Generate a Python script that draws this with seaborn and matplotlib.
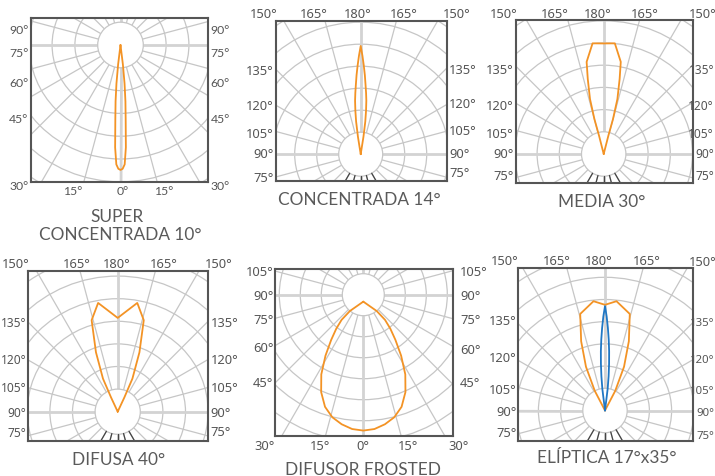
import numpy as np
import pandas as pd
import matplotlib.pyplot as plt
from matplotlib.patches import Circle
import seaborn as sns

W, H = 715, 477
sns.set_style("white")
plt.rcParams['font.family'] = ['Lato', 'DejaVu Sans']

ORANGE = "#f39325"
BLUE = "#1f77c4"
GRID = "#c6c6c6"
TXT = "#555555"
NARROW = ['Noto Sans', 'DejaVu Sans']

# half profiles: angle from the beam axis (deg) -> intensity in grid rings
super_angle = [0, 1, 2, 3, 4, 5, 6, 7, 8]
super_value = [5.48, 5.43, 5.24, 4.50, 3.25, 2.48, 1.70, 0.85, 0.0]
conc_angle = [0, 1, 2, 3, 4, 5, 6, 7, 8, 9, 10]
conc_value = [4.92, 4.48, 4.03, 3.60, 3.16, 2.80, 2.45, 1.99, 1.50, 0.80, 0.0]
media_angle = [0, 5.75, 10.5, 12.0, 14.0, 14.9, 14.3, 14.0]
media_value = [4.98, 5.01, 4.22, 3.45, 2.55, 1.63, 0.85, 0.0]
difusa_angle = [0, 10.2, 15.9, 20.1, 24.0, 25.0, 25.0]
difusa_value = [4.15, 4.89, 4.21, 2.80, 1.60, 0.70, 0.0]
frosted_angle = [0, 5, 10, 15, 20, 25, 30, 35, 40, 45, 50, 55, 60]
frosted_value = [6.14, 6.09, 5.93, 5.70, 5.33, 4.75, 4.00, 3.14, 2.38, 1.82, 1.35, 0.78, 0.0]
eli_wide_angle = [0, 6, 14.4, 19.0, 23.5, 27.5, 28.0]
eli_wide_value = [4.76, 4.95, 4.49, 3.30, 2.15, 1.00, 0.0]
eli_narrow_angle = [0, 1, 2, 3, 4, 5, 6, 7, 8]
eli_narrow_value = [4.70, 4.24, 3.72, 3.20, 2.67, 2.11, 1.55, 0.98, 0.0]

top_ticks = ["150°", "165°", "180°", "165°", "150°"]
side_up = ["135°", "120°", "105°", "90°", "75°"]
side_super = ["90°", "75°", "60°", "45°"]
side_frosted = ["105°", "90°", "75°", "60°", "45°"]
bottom_ticks = ["30°", "15°", "0°", "15°", "30°"]


def ticks(labels, xs, ys, ha="center", size=None):
    n = len(labels)
    xs = xs if isinstance(xs, list) else [xs] * n
    ys = ys if isinstance(ys, list) else [ys] * n
    return [(t, x, y, ha, size) for t, x, y in zip(labels, xs, ys)]


panels = [
    dict(box=(30.7, 19.3, 208.3, 182.7), c=(120.5, 46.0), ring=22.8, up=False,
         curves=[(super_angle, super_value, ORANGE)],
         title=[("SUPER", 116.7, 216.7), ("CONCENTRADA 10°", 120, 235)],
         font=(['Lato', 'DejaVu Sans'], 8.8, "normal"),
         labels=ticks(side_super, 28.3, [30, 53.3, 83.3, 120], "right")
         + ticks(side_super, 210.7, [30, 53.3, 83.3, 120], "left")
         + ticks(["30°"], 28.3, 186, "right") + ticks(["30°"], 210.7, 186, "left")
         + ticks(bottom_ticks[1:4], [72.7, 122.7, 163.3], 191.7)),
    dict(box=(275.5, 21.5, 446.8, 181.5), c=(360.7, 155.2), ring=22.0, up=True,
         curves=[(conc_angle, conc_value, ORANGE)],
         title=[("CONCENTRADA 14°", 359.7, 200)],
         labels=ticks(top_ticks, [263.3, 313.3, 357.3, 403.3, 456.7], 15)
         + ticks(side_up, 273.3, [71.7, 106.7, 135, 155, 178.3], "right")
         + ticks(side_up, 449.3, [70, 105, 131.7, 154, 173.3], "left")),
    dict(box=(515.7, 21.0, 692.9, 184.0), c=(603.7, 155.0), ring=22.2, up=True,
         curves=[(media_angle, media_value, ORANGE)],
         title=[("MEDIA 30°", 601.7, 201.7)],
         labels=ticks(top_ticks, [503.3, 555, 597.3, 645, 702.5], 14)
         + ticks(side_up, 514, [70.7, 106, 134.3, 155, 176.7], "right")
         + ticks(side_up, 714, [70.7, 106, 134.3, 155, 176], "right", 8.6)),
    dict(box=(27.7, 272.3, 208.2, 441.7), c=(117.7, 412.7), ring=22.6, up=True,
         curves=[(difusa_angle, difusa_value, ORANGE)],
         title=[("DIFUSA 40°", 118.3, 460)],
         labels=ticks(top_ticks, [15.5, 76.7, 116.7, 163.3, 218.3], 264)
         + ticks(side_up, 26.5, [323.3, 360, 388.3, 413.3, 433.3], "right", 8.6)
         + ticks(side_up, 210.7, [323.3, 360, 388.3, 413.3, 432.7], "left")),
    dict(box=(274.5, 270.3, 452.7, 437.0), c=(363.3, 295.7), ring=21.0, up=False,
         offset=-0.33,
         curves=[(frosted_angle, frosted_value, ORANGE)],
         title=[("DIFUSOR FROSTED", 363.3, 470)],
         labels=ticks(side_frosted, 273.3, [272.7, 296.7, 320, 348.3, 383.3], "right")
         + ticks(side_frosted, 460, [272.7, 296.7, 320.7, 350, 383.3], "left")
         + ticks(bottom_ticks, [265, 320, 363.3, 408.3, 458.3], 446.7)),
    dict(box=(518.2, 269.0, 693.3, 441.8), c=(605.0, 411.5), ring=22.2, up=True,
         curves=[(eli_wide_angle, eli_wide_value, ORANGE),
                 (eli_narrow_angle, eli_narrow_value, BLUE)],
         title=[("ELÍPTICA 17°x35°", 606.7, 458.3)],
         labels=ticks(top_ticks, [505, 556.7, 598.3, 646.7, 702.5],
                      [261.7, 261.7, 261.7, 261.7, 263])
         + ticks(side_up, 516.7, [321.7, 358.3, 390, 412.7, 433.3], "right")
         + ticks(side_up, 714.5, [324, 360.7, 391.7, 414, 436.7], "right", 8.2)),
]

fig = plt.figure(figsize=(W / 100, H / 100), dpi=100)


def mirror(angles, values):
    a = np.asarray(angles, float)
    v = np.asarray(values, float)
    return np.r_[-a[::-1], a[1:]], np.r_[v[::-1], v[1:]]


for p in panels:
    x0, y0, x1, y1 = p["box"]
    cx, cy = p["c"]
    R = p["ring"]
    ax = fig.add_axes([x0 / W, 1 - y1 / H, (x1 - x0) / W, (y1 - y0) / H])
    ax.set_xlim((x0 - cx) / R, (x1 - cx) / R)
    ax.set_ylim((cy - y1) / R, (cy - y0) / R)
    ax.set_xticks([])
    ax.set_yticks([])
    for s in ax.spines.values():
        s.set_color("#555555")
        s.set_linewidth(1.5)
        s.set_zorder(6)

    # polar grid
    for k in range(2, 12):
        ax.add_patch(Circle((0, 0), k, fill=False, ec=GRID, lw=0.9, zorder=1))
    for a in range(0, 360, 15):
        t = np.deg2rad(a)
        main = a % 90 == 0
        ax.plot([np.cos(t), 12 * np.cos(t)], [np.sin(t), 12 * np.sin(t)],
                color="#d3d3d3" if main else GRID, lw=2.0 if main else 0.9, zorder=1)
    ax.add_patch(Circle((0, 0), 1, fc="white", ec=GRID, lw=0.9, zorder=2))
    if p["up"]:
        for a in (-30, -15, 0, 15, 30):
            t = np.deg2rad(a)
            ax.plot([np.sin(t), 2 * np.sin(t)], [-np.cos(t), -2 * np.cos(t)],
                    color="#444444", lw=0.9, zorder=2.5)

    # photometric curves
    sign = 1 if p["up"] else -1
    off = p.get("offset", 0.0)
    for angles, values, col in p["curves"]:
        a, r = mirror(angles, values)
        t = np.deg2rad(a)
        df = pd.DataFrame({"x": r * np.sin(t), "y": sign * r * np.cos(t) + off})
        sns.lineplot(data=df, x="x", y="y", sort=False, estimator=None,
                     color=col, lw=1.3, ax=ax, zorder=4)
    ax.set_xlabel("")
    ax.set_ylabel("")

    fam, size, stretch = p.get("font", (NARROW, 9.3, "condensed"))
    for s, x, y, ha, sz in p["labels"]:
        fig.text(x / W, 1 - y / H, s, ha=ha, va="center", color=TXT,
                 family=fam, fontsize=sz or size, fontstretch=stretch)
    for s, x, y in p["title"]:
        fig.text(x / W, 1 - y / H, s, ha="center", va="center", color="#5a5a5a",
                 family=['Lato', 'DejaVu Sans'], fontweight="normal", fontsize=12.4)

fig.savefig("out.png", dpi=100)
